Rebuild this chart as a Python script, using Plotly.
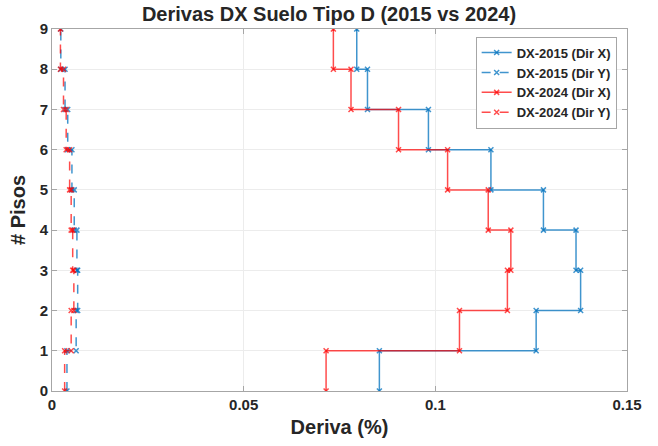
import plotly.graph_objects as go

# Story drift (%) for stories 1..9 (story i spans floor i-1 to floor i)
stories = [1, 2, 3, 4, 5, 6, 7, 8, 9]
dx2015_x = [0.0854, 0.1263, 0.1379, 0.1367, 0.1282, 0.1145, 0.0982, 0.0823, 0.0795]
dx2015_y = [0.0039, 0.0063, 0.0067, 0.0065, 0.0058, 0.0052, 0.0041, 0.0034, 0.0023]
dx2024_x = [0.0715, 0.1063, 0.1188, 0.1197, 0.1138, 0.1032, 0.0904, 0.0780, 0.0734]
dx2024_y = [0.0033, 0.0050, 0.0057, 0.0054, 0.0050, 0.0046, 0.0037, 0.0030, 0.0022]

x_ticks = [0, 0.05, 0.1, 0.15]
x_ticklabels = ["0", "0.05", "0.1", "0.15"]
y_ticks = list(range(0, 10))

BLUE = "rgba(0,114,189,0.75)"
RED = "rgba(255,0,0,0.7)"


def stairs(drifts):
    xs, ys = [], []
    for s, d in zip(stories, drifts):
        xs += [d, d]
        ys += [s - 1, s]
    return xs, ys


series = [
    ("DX-2015 (Dir X)", dx2015_x, BLUE, "solid"),
    ("DX-2015 (Dir Y)", dx2015_y, BLUE, "dash"),
    ("DX-2024 (Dir X)", dx2024_x, RED, "solid"),
    ("DX-2024 (Dir Y)", dx2024_y, RED, "dash"),
]

fig = go.Figure()
for name, vals, col, dash in series:
    xs, ys = stairs(vals)
    fig.add_trace(go.Scatter(
        x=xs, y=ys, name="<b>%s</b>" % name, mode="lines+markers",
        line=dict(color=col, width=1.5, dash=dash),
        marker=dict(symbol="x-thin", size=5, line=dict(color=col, width=1.5)),
    ))

FONT = "Liberation Sans"
axis_common = dict(
    showline=True, linecolor="#a6a6a6", linewidth=1, mirror="ticks",
    ticks="inside", ticklen=5, tickcolor="#a6a6a6",
    showgrid=True, gridcolor="#ececec", gridwidth=1, zeroline=False,
    automargin=True,
    tickfont=dict(family=FONT, size=15, color="#262626"),
)

fig.update_layout(
    width=658, height=446,
    paper_bgcolor="white", plot_bgcolor="white",
    margin=dict(l=52, r=31, t=29, b=55),
    title=dict(text="<b>Derivas DX Suelo Tipo D (2015 vs 2024)</b>",
               x=0.5, xanchor="center", y=0.968, yanchor="middle",
               font=dict(family=FONT, size=20, color="#262626")),
    xaxis=dict(range=[0, 0.15], tickvals=x_ticks,
               ticktext=["<b>%s</b>" % t for t in x_ticklabels],
               title=dict(text="<b>Deriva (%)</b>", standoff=7,
                          font=dict(family=FONT, size=20, color="#262626")),
               **axis_common),
    yaxis=dict(range=[0, 9], tickvals=y_ticks,
               ticktext=["<b>%d</b>" % t for t in y_ticks],
               title=dict(text="<b># Pisos</b>", standoff=8,
                          font=dict(family=FONT, size=20, color="#262626")),
               **axis_common),
    legend=dict(x=0.982, xanchor="right", y=0.979, yanchor="top",
                bgcolor="white", bordercolor="#a6a6a6", borderwidth=1,
                font=dict(family=FONT, size=13, color="#262626"),
                tracegroupgap=0, itemwidth=30),
    showlegend=True,
)

fig.write_html("out.html", config={"displayModeBar": False},
               post_script="document.body.style.margin='0';")
